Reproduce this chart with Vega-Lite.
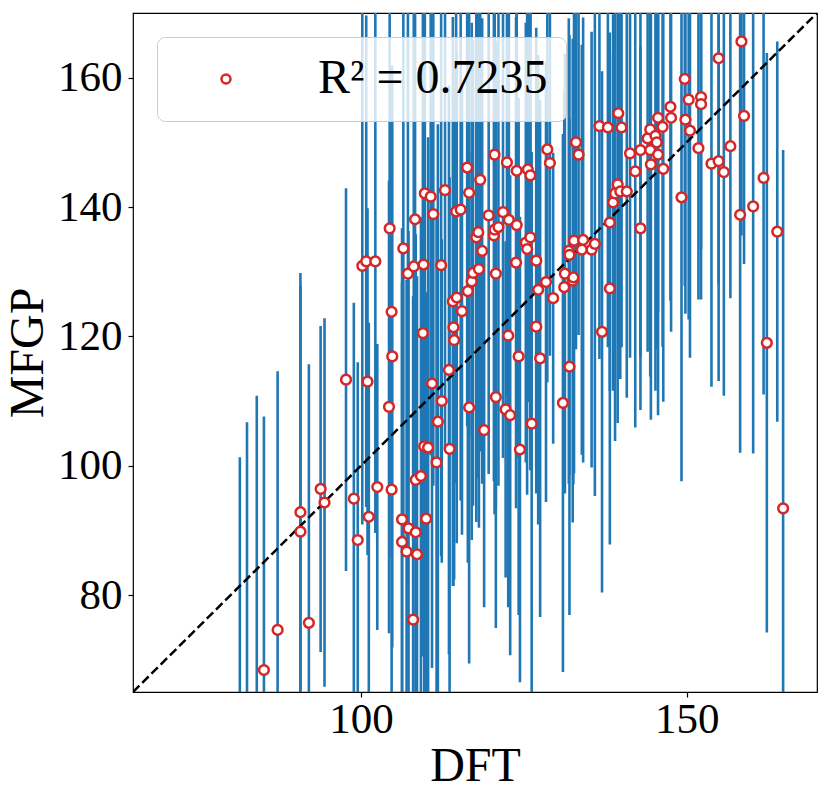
{
  "$schema": "https://vega.github.io/schema/vega-lite/v6.json",
  "width": 684,
  "height": 679,
  "padding": {"left": 4, "top": 13, "right": 14, "bottom": 5},
  "config": {
    "font": "Liberation Serif",
    "view": {"stroke": "black", "strokeWidth": 1.2},
    "axis": {
      "grid": false,
      "domain": false,
      "tickColor": "black",
      "tickSize": 5,
      "tickWidth": 1.2,
      "labelColor": "black",
      "titleColor": "black",
      "labelFont": "Liberation Serif",
      "titleFont": "Liberation Serif",
      "labelFontSize": 43,
      "titleFontSize": 48,
      "titleFontWeight": "normal"
    }
  },
  "datasets": {
    "points": [
      {"dft": 81.4, "mfgp": 60.0, "lo": 18.7, "hi": 101.3},
      {"dft": 82.5, "mfgp": 62.0, "lo": 17.3, "hi": 106.7},
      {"dft": 84.0, "mfgp": 63.0, "lo": 15.2, "hi": 110.8},
      {"dft": 85.1, "mfgp": 68.4, "lo": 29.2, "hi": 107.6},
      {"dft": 87.2, "mfgp": 74.6, "lo": 34.6, "hi": 114.6},
      {"dft": 90.7, "mfgp": 92.8, "lo": 57.8, "hi": 127.8},
      {"dft": 90.7, "mfgp": 89.8, "lo": 49.8, "hi": 129.8},
      {"dft": 92.0, "mfgp": 75.7, "lo": 35.7, "hi": 115.7},
      {"dft": 93.8, "mfgp": 96.4, "lo": 71.2, "hi": 121.6},
      {"dft": 94.4, "mfgp": 94.3, "lo": 65.8, "hi": 122.8},
      {"dft": 97.7, "mfgp": 113.3, "lo": 83.7, "hi": 142.9},
      {"dft": 98.9, "mfgp": 94.9, "lo": 64.6, "hi": 125.2},
      {"dft": 99.5, "mfgp": 88.5, "lo": 61.0, "hi": 116.0},
      {"dft": 100.2, "mfgp": 130.9, "lo": 90.9, "hi": 170.9},
      {"dft": 100.8, "mfgp": 131.6, "lo": 93.6, "hi": 169.6},
      {"dft": 101.0, "mfgp": 113.0, "lo": 86.2, "hi": 139.8},
      {"dft": 101.2, "mfgp": 92.1, "lo": 62.1, "hi": 122.1},
      {"dft": 102.2, "mfgp": 131.6, "lo": 89.6, "hi": 173.6},
      {"dft": 102.5, "mfgp": 96.7, "lo": 74.6, "hi": 118.8},
      {"dft": 104.3, "mfgp": 109.1, "lo": 74.1, "hi": 144.1},
      {"dft": 104.4, "mfgp": 136.7, "lo": 96.7, "hi": 176.7},
      {"dft": 104.7, "mfgp": 123.8, "lo": 85.8, "hi": 161.8},
      {"dft": 104.7, "mfgp": 96.3, "lo": 64.3, "hi": 128.3},
      {"dft": 104.8, "mfgp": 116.9, "lo": 71.9, "hi": 161.9},
      {"dft": 106.3, "mfgp": 91.7, "lo": 46.7, "hi": 136.7},
      {"dft": 106.3, "mfgp": 88.2, "lo": 48.2, "hi": 128.2},
      {"dft": 106.5, "mfgp": 133.6, "lo": 88.6, "hi": 178.6},
      {"dft": 107.0, "mfgp": 86.7, "lo": 44.7, "hi": 128.7},
      {"dft": 107.2, "mfgp": 129.7, "lo": 81.7, "hi": 177.7},
      {"dft": 107.3, "mfgp": 90.3, "lo": 44.3, "hi": 136.3},
      {"dft": 108.0, "mfgp": 76.2, "lo": 26.2, "hi": 126.2},
      {"dft": 108.1, "mfgp": 130.8, "lo": 86.8, "hi": 174.8},
      {"dft": 108.3, "mfgp": 138.1, "lo": 98.1, "hi": 178.1},
      {"dft": 108.4, "mfgp": 97.8, "lo": 59.8, "hi": 135.8},
      {"dft": 108.4, "mfgp": 89.7, "lo": 44.7, "hi": 134.7},
      {"dft": 108.6, "mfgp": 86.3, "lo": 43.3, "hi": 129.3},
      {"dft": 109.2, "mfgp": 98.4, "lo": 58.4, "hi": 138.4},
      {"dft": 109.5, "mfgp": 120.5, "lo": 70.5, "hi": 170.5},
      {"dft": 109.6, "mfgp": 131.1, "lo": 89.1, "hi": 173.1},
      {"dft": 109.7, "mfgp": 103.0, "lo": 58.0, "hi": 148.0},
      {"dft": 109.8, "mfgp": 142.1, "lo": 104.1, "hi": 180.1},
      {"dft": 110.0, "mfgp": 91.8, "lo": 56.8, "hi": 126.8},
      {"dft": 110.3, "mfgp": 102.8, "lo": 54.8, "hi": 150.8},
      {"dft": 110.7, "mfgp": 141.6, "lo": 101.6, "hi": 181.6},
      {"dft": 110.9, "mfgp": 112.7, "lo": 68.7, "hi": 156.7},
      {"dft": 111.1, "mfgp": 138.9, "lo": 96.9, "hi": 180.9},
      {"dft": 111.6, "mfgp": 100.5, "lo": 62.5, "hi": 138.5},
      {"dft": 111.8, "mfgp": 106.8, "lo": 60.8, "hi": 152.8},
      {"dft": 112.3, "mfgp": 131.0, "lo": 86.0, "hi": 176.0},
      {"dft": 112.4, "mfgp": 110.0, "lo": 85.0, "hi": 135.0},
      {"dft": 112.9, "mfgp": 142.6, "lo": 102.6, "hi": 182.6},
      {"dft": 113.5, "mfgp": 114.8, "lo": 70.8, "hi": 158.8},
      {"dft": 113.6, "mfgp": 102.6, "lo": 60.6, "hi": 144.6},
      {"dft": 114.1, "mfgp": 125.4, "lo": 81.4, "hi": 169.4},
      {"dft": 114.2, "mfgp": 121.4, "lo": 81.4, "hi": 161.4},
      {"dft": 114.3, "mfgp": 119.4, "lo": 82.4, "hi": 156.4},
      {"dft": 114.6, "mfgp": 139.3, "lo": 97.3, "hi": 181.3},
      {"dft": 114.7, "mfgp": 126.0, "lo": 88.0, "hi": 164.0},
      {"dft": 115.3, "mfgp": 139.6, "lo": 94.6, "hi": 184.6},
      {"dft": 115.5, "mfgp": 123.9, "lo": 89.3, "hi": 158.5},
      {"dft": 116.3, "mfgp": 146.1, "lo": 106.1, "hi": 186.1},
      {"dft": 116.4, "mfgp": 127.0, "lo": 85.0, "hi": 169.0},
      {"dft": 116.6, "mfgp": 142.2, "lo": 104.2, "hi": 180.2},
      {"dft": 116.6, "mfgp": 109.0, "lo": 69.4, "hi": 148.6},
      {"dft": 117.0, "mfgp": 128.5, "lo": 88.5, "hi": 168.5},
      {"dft": 117.2, "mfgp": 129.8, "lo": 93.8, "hi": 165.8},
      {"dft": 117.7, "mfgp": 135.3, "lo": 91.3, "hi": 179.3},
      {"dft": 118.0, "mfgp": 136.1, "lo": 98.1, "hi": 174.1},
      {"dft": 118.1, "mfgp": 130.4, "lo": 90.4, "hi": 170.4},
      {"dft": 118.3, "mfgp": 144.2, "lo": 102.2, "hi": 186.2},
      {"dft": 118.6, "mfgp": 133.2, "lo": 97.2, "hi": 169.2},
      {"dft": 118.9, "mfgp": 105.5, "lo": 78.1, "hi": 132.9},
      {"dft": 119.6, "mfgp": 138.7, "lo": 98.7, "hi": 178.7},
      {"dft": 120.4, "mfgp": 135.6, "lo": 97.6, "hi": 173.6},
      {"dft": 120.5, "mfgp": 136.5, "lo": 92.5, "hi": 180.5},
      {"dft": 120.5, "mfgp": 148.1, "lo": 108.1, "hi": 188.1},
      {"dft": 120.7, "mfgp": 110.6, "lo": 74.9, "hi": 146.3},
      {"dft": 120.7, "mfgp": 129.7, "lo": 93.7, "hi": 165.7},
      {"dft": 121.1, "mfgp": 136.9, "lo": 96.9, "hi": 176.9},
      {"dft": 121.8, "mfgp": 139.2, "lo": 101.2, "hi": 177.2},
      {"dft": 122.2, "mfgp": 108.7, "lo": 82.7, "hi": 134.7},
      {"dft": 122.4, "mfgp": 146.9, "lo": 110.9, "hi": 182.9},
      {"dft": 122.6, "mfgp": 120.1, "lo": 78.1, "hi": 162.1},
      {"dft": 122.7, "mfgp": 138.0, "lo": 98.0, "hi": 178.0},
      {"dft": 122.9, "mfgp": 107.8, "lo": 70.7, "hi": 144.9},
      {"dft": 123.8, "mfgp": 131.4, "lo": 93.4, "hi": 169.4},
      {"dft": 123.9, "mfgp": 137.2, "lo": 101.2, "hi": 173.2},
      {"dft": 123.9, "mfgp": 145.6, "lo": 105.6, "hi": 185.6},
      {"dft": 124.2, "mfgp": 116.9, "lo": 76.9, "hi": 156.9},
      {"dft": 124.4, "mfgp": 102.5, "lo": 66.5, "hi": 138.5},
      {"dft": 125.3, "mfgp": 134.5, "lo": 100.5, "hi": 168.5},
      {"dft": 125.5, "mfgp": 133.5, "lo": 95.5, "hi": 171.5},
      {"dft": 125.6, "mfgp": 145.8, "lo": 109.8, "hi": 181.8},
      {"dft": 126.0, "mfgp": 144.9, "lo": 104.9, "hi": 184.9},
      {"dft": 126.0, "mfgp": 135.3, "lo": 99.3, "hi": 171.3},
      {"dft": 126.2, "mfgp": 106.5, "lo": 64.5, "hi": 148.5},
      {"dft": 126.9, "mfgp": 121.5, "lo": 99.9, "hi": 143.1},
      {"dft": 126.9, "mfgp": 131.7, "lo": 95.7, "hi": 167.7},
      {"dft": 127.2, "mfgp": 127.2, "lo": 90.9, "hi": 163.5},
      {"dft": 127.5, "mfgp": 116.6, "lo": 76.6, "hi": 156.6},
      {"dft": 128.4, "mfgp": 128.4, "lo": 94.4, "hi": 162.4},
      {"dft": 128.6, "mfgp": 148.9, "lo": 112.9, "hi": 184.9},
      {"dft": 129.0, "mfgp": 146.8, "lo": 117.0, "hi": 176.6},
      {"dft": 129.5, "mfgp": 125.9, "lo": 103.4, "hi": 148.4},
      {"dft": 131.0, "mfgp": 109.7, "lo": 68.1, "hi": 151.3},
      {"dft": 131.2, "mfgp": 127.6, "lo": 97.3, "hi": 157.9},
      {"dft": 131.3, "mfgp": 129.7, "lo": 95.7, "hi": 163.7},
      {"dft": 131.9, "mfgp": 133.2, "lo": 97.2, "hi": 169.2},
      {"dft": 132.0, "mfgp": 132.6, "lo": 98.6, "hi": 166.6},
      {"dft": 132.0, "mfgp": 115.3, "lo": 76.9, "hi": 153.7},
      {"dft": 132.5, "mfgp": 128.6, "lo": 91.2, "hi": 166.0},
      {"dft": 132.6, "mfgp": 129.1, "lo": 97.1, "hi": 161.1},
      {"dft": 132.7, "mfgp": 134.8, "lo": 98.8, "hi": 170.8},
      {"dft": 133.0, "mfgp": 150.0, "lo": 118.0, "hi": 182.0},
      {"dft": 133.4, "mfgp": 148.1, "lo": 120.2, "hi": 176.0},
      {"dft": 133.9, "mfgp": 133.4, "lo": 101.7, "hi": 165.1},
      {"dft": 134.1, "mfgp": 134.9, "lo": 100.5, "hi": 169.3},
      {"dft": 135.4, "mfgp": 133.4, "lo": 99.7, "hi": 167.1},
      {"dft": 135.9, "mfgp": 134.3, "lo": 95.3, "hi": 173.3},
      {"dft": 136.6, "mfgp": 152.5, "lo": 116.5, "hi": 188.5},
      {"dft": 137.0, "mfgp": 120.7, "lo": 80.4, "hi": 161.0},
      {"dft": 137.9, "mfgp": 152.3, "lo": 118.3, "hi": 186.3},
      {"dft": 138.2, "mfgp": 137.6, "lo": 111.6, "hi": 163.6},
      {"dft": 138.2, "mfgp": 127.4, "lo": 87.8, "hi": 167.0},
      {"dft": 138.7, "mfgp": 140.7, "lo": 111.6, "hi": 169.8},
      {"dft": 139.0, "mfgp": 142.1, "lo": 103.8, "hi": 180.4},
      {"dft": 139.4, "mfgp": 143.5, "lo": 106.6, "hi": 180.4},
      {"dft": 139.5, "mfgp": 154.5, "lo": 118.1, "hi": 190.9},
      {"dft": 139.8, "mfgp": 142.4, "lo": 113.4, "hi": 171.4},
      {"dft": 140.0, "mfgp": 152.3, "lo": 118.3, "hi": 186.3},
      {"dft": 140.8, "mfgp": 142.4, "lo": 110.5, "hi": 174.3},
      {"dft": 141.3, "mfgp": 148.3, "lo": 116.7, "hi": 179.9},
      {"dft": 142.1, "mfgp": 145.5, "lo": 105.9, "hi": 185.1},
      {"dft": 142.9, "mfgp": 136.7, "lo": 108.6, "hi": 164.8},
      {"dft": 142.9, "mfgp": 148.8, "lo": 116.8, "hi": 180.8},
      {"dft": 144.0, "mfgp": 150.6, "lo": 117.6, "hi": 183.6},
      {"dft": 144.4, "mfgp": 152.0, "lo": 122.0, "hi": 182.0},
      {"dft": 144.4, "mfgp": 148.8, "lo": 113.8, "hi": 183.8},
      {"dft": 144.5, "mfgp": 146.6, "lo": 107.1, "hi": 186.1},
      {"dft": 145.2, "mfgp": 151.0, "lo": 111.6, "hi": 190.4},
      {"dft": 145.4, "mfgp": 150.0, "lo": 118.0, "hi": 182.0},
      {"dft": 145.6, "mfgp": 148.1, "lo": 107.8, "hi": 188.4},
      {"dft": 145.6, "mfgp": 153.8, "lo": 123.8, "hi": 183.8},
      {"dft": 146.3, "mfgp": 152.4, "lo": 118.4, "hi": 186.4},
      {"dft": 146.4, "mfgp": 145.9, "lo": 109.9, "hi": 181.9},
      {"dft": 147.5, "mfgp": 155.5, "lo": 125.5, "hi": 185.5},
      {"dft": 147.6, "mfgp": 153.8, "lo": 120.7, "hi": 186.9},
      {"dft": 149.2, "mfgp": 141.5, "lo": 97.6, "hi": 185.4},
      {"dft": 149.7, "mfgp": 159.8, "lo": 127.8, "hi": 191.8},
      {"dft": 149.8, "mfgp": 153.5, "lo": 123.5, "hi": 183.5},
      {"dft": 150.3, "mfgp": 156.6, "lo": 122.6, "hi": 190.6},
      {"dft": 150.5, "mfgp": 151.8, "lo": 116.7, "hi": 186.9},
      {"dft": 151.8, "mfgp": 149.1, "lo": 125.7, "hi": 172.5},
      {"dft": 152.2, "mfgp": 157.0, "lo": 125.7, "hi": 188.3},
      {"dft": 152.2, "mfgp": 155.9, "lo": 133.5, "hi": 178.3},
      {"dft": 153.8, "mfgp": 146.7, "lo": 112.2, "hi": 181.2},
      {"dft": 154.9, "mfgp": 163.0, "lo": 128.0, "hi": 198.0},
      {"dft": 154.9, "mfgp": 147.1, "lo": 113.1, "hi": 181.1},
      {"dft": 155.7, "mfgp": 145.4, "lo": 110.8, "hi": 180.0},
      {"dft": 156.7, "mfgp": 149.4, "lo": 125.9, "hi": 172.9},
      {"dft": 158.2, "mfgp": 138.8, "lo": 102.0, "hi": 175.6},
      {"dft": 158.4, "mfgp": 165.6, "lo": 135.6, "hi": 195.6},
      {"dft": 158.8, "mfgp": 154.1, "lo": 131.2, "hi": 177.0},
      {"dft": 160.2, "mfgp": 140.1, "lo": 101.9, "hi": 178.3},
      {"dft": 161.8, "mfgp": 144.5, "lo": 111.0, "hi": 178.0},
      {"dft": 162.3, "mfgp": 119.0, "lo": 74.2, "hi": 163.8},
      {"dft": 163.9, "mfgp": 136.2, "lo": 106.8, "hi": 165.6},
      {"dft": 164.8, "mfgp": 93.4, "lo": 38.0, "hi": 148.8}
    ],
    "diagonal": [
      {"dft": 65, "mfgp": 65},
      {"dft": 170, "mfgp": 170}
    ]
  },
  "layer": [
    {
      "data": {"name": "points"},
      "mark": {"type": "rule", "clip": true, "color": "#1f77b4", "strokeWidth": 2.6},
      "encoding": {
        "x": {
          "field": "dft",
          "type": "quantitative",
          "scale": {"domain": [65, 170], "nice": false, "zero": false},
          "axis": {"title": "DFT", "values": [100, 150], "labelPadding": 1, "titlePadding": 1}
        },
        "y": {
          "field": "lo",
          "type": "quantitative",
          "scale": {"domain": [65, 170], "nice": false, "zero": false},
          "axis": {"title": "MFGP", "values": [80, 100, 120, 140, 160], "labelPadding": 6, "titlePadding": 5}
        },
        "y2": {"field": "hi"}
      }
    },
    {
      "data": {"name": "diagonal"},
      "mark": {"type": "line", "clip": true, "color": "black", "strokeWidth": 2.5, "strokeDash": [9, 4]},
      "encoding": {
        "x": {"field": "dft", "type": "quantitative"},
        "y": {"field": "mfgp", "type": "quantitative"}
      }
    },
    {
      "data": {"name": "points"},
      "mark": {"type": "point", "shape": "circle", "filled": true, "fill": "white", "strokeWidth": 2.5, "size": 95, "opacity": 1, "clip": true},
      "encoding": {
        "x": {"field": "dft", "type": "quantitative"},
        "y": {"field": "mfgp", "type": "quantitative"},
        "stroke": {
          "datum": "R² = 0.7235",
          "type": "nominal",
          "scale": {"range": ["#d62728"]},
          "legend": {
            "title": null,
            "orient": "top-left",
            "offset": 24,
            "padding": 18,
            "fillColor": "rgba(255,255,255,0.8)",
            "strokeColor": "#cccccc",
            "cornerRadius": 8,
            "symbolType": "circle",
            "symbolSize": 80,
            "symbolFillColor": "white",
            "symbolStrokeWidth": 2.5,
            "symbolOffset": 27,
            "labelOffset": 68,
            "labelFont": "Liberation Serif",
            "labelFontSize": 48,
            "labelColor": "black",
            "labelLimit": 400
          }
        }
      }
    }
  ]
}
